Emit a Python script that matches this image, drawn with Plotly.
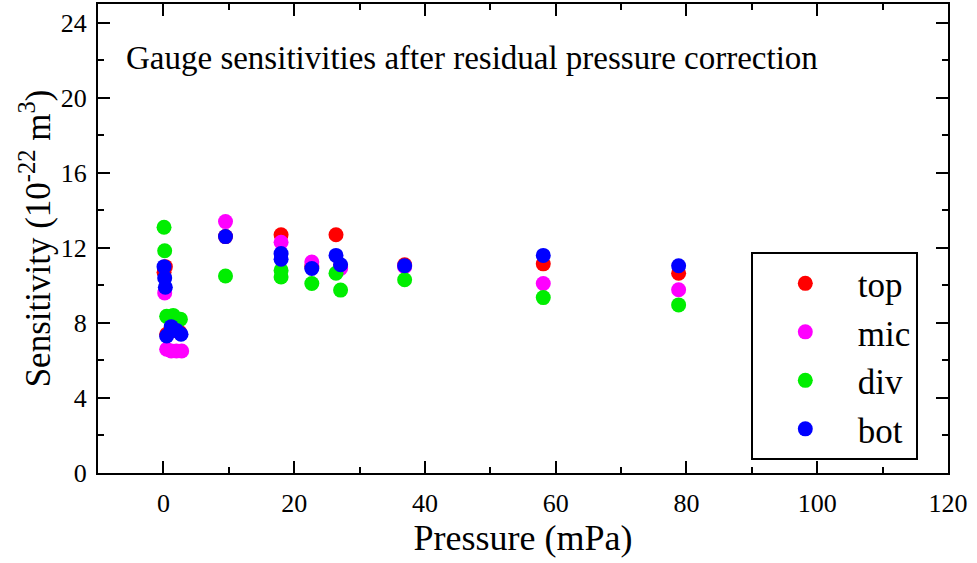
import plotly.graph_objects as go

# ---- data ----
top_p = [0.1, 0.3, 0.5, 1.5, 2.5, 9.5, 18.0, 22.7, 26.4, 27.1, 36.9, 58.1, 78.8]
top_s = [10.7, 11.0, 7.4, 7.6, 7.5, 12.6, 12.7, 11.0, 12.7, 11.0, 11.1, 11.15, 10.65]

mic_p = [0.2, 0.5, 1.2, 2.0, 2.8, 9.5, 18.0, 22.7, 27.1, 36.9, 58.1, 78.8]
mic_s = [9.6, 6.6, 6.5, 6.5, 6.5, 13.4, 12.3, 11.25, 10.9, 11.0, 10.1, 9.77]

div_p = [0.1, 0.2, 0.5, 1.5, 2.6, 9.5, 18.0, 18.0, 22.7, 26.4, 27.1, 36.9, 58.1, 78.8]
div_s = [13.1, 11.85, 8.35, 8.4, 8.2, 10.5, 10.8, 10.45, 10.1, 10.65, 9.75, 10.3, 9.35, 8.96]

bot_p = [0.1, 0.2, 0.3, 0.5, 1.2, 2.0, 2.7, 9.5, 18.0, 18.0, 22.7, 26.4, 27.1, 36.9, 58.1, 78.8]
bot_s = [11.0, 10.4, 9.9, 7.3, 7.8, 7.6, 7.4, 12.6, 11.7, 11.4, 10.9, 11.6, 11.1, 11.05, 11.6, 11.05]

series = [
    ("top", top_p, top_s, "#FF0000"),
    ("mic", mic_p, mic_s, "#FF00FF"),
    ("div", div_p, div_s, "#00EE00"),
    ("bot", bot_p, bot_s, "#0000FF"),
]

FONT = "Liberation Serif"

fig = go.Figure()
for name, p, s, c in series:
    fig.add_trace(go.Scatter(
        x=p, y=s, mode="markers", name=name,
        marker=dict(size=15, color=c, line=dict(width=0)),
    ))

axis_common = dict(
    showline=True, linecolor="black", linewidth=2, mirror="ticks",
    ticks="inside", ticklen=12, tickwidth=2, tickcolor="black",
    showgrid=False, zeroline=False, automargin=False,
    tickfont=dict(family=FONT, size=26, color="black"),
)

fig.update_xaxes(
    range=[-10, 120], tick0=0, dtick=20, ticklabelstandoff=6,
    minor=dict(ticks="inside", ticklen=6, tickwidth=2, tickcolor="black", dtick=10, tick0=0),
    title=dict(text="Pressure (mPa)", font=dict(family=FONT, size=36, color="black"), standoff=2),
    **axis_common,
)
fig.update_yaxes(
    range=[0, 25], tick0=0, dtick=4, ticklabelstandoff=4,
    minor=dict(ticks="inside", ticklen=6, tickwidth=2, tickcolor="black", dtick=2, tick0=0),
    title=dict(text="Sensitivity (10<sup>-22</sup> m<sup>3</sup>)", font=dict(family=FONT, size=35, color="black"), standoff=0),
    **axis_common,
)

fig.add_annotation(
    text="Gauge sensitivities after residual pressure correction",
    xref="paper", yref="paper", x=0.031, y=0.885, xanchor="left", yanchor="middle",
    showarrow=False, font=dict(family=FONT, size=33, color="black"),
)

fig.update_layout(
    width=977, height=563,
    margin=dict(l=98, r=29, t=4, b=90),
    plot_bgcolor="white", paper_bgcolor="white",
    legend=dict(
        x=0.768, y=0.471, xanchor="left", yanchor="top",
        bordercolor="black", borderwidth=2, bgcolor="white",
        font=dict(family=FONT, size=35, color="black"),
        itemwidth=95,
    ),
)

fig.write_html("out.html", config={"displayModeBar": False},
               post_script="document.body.style.margin='0';")
